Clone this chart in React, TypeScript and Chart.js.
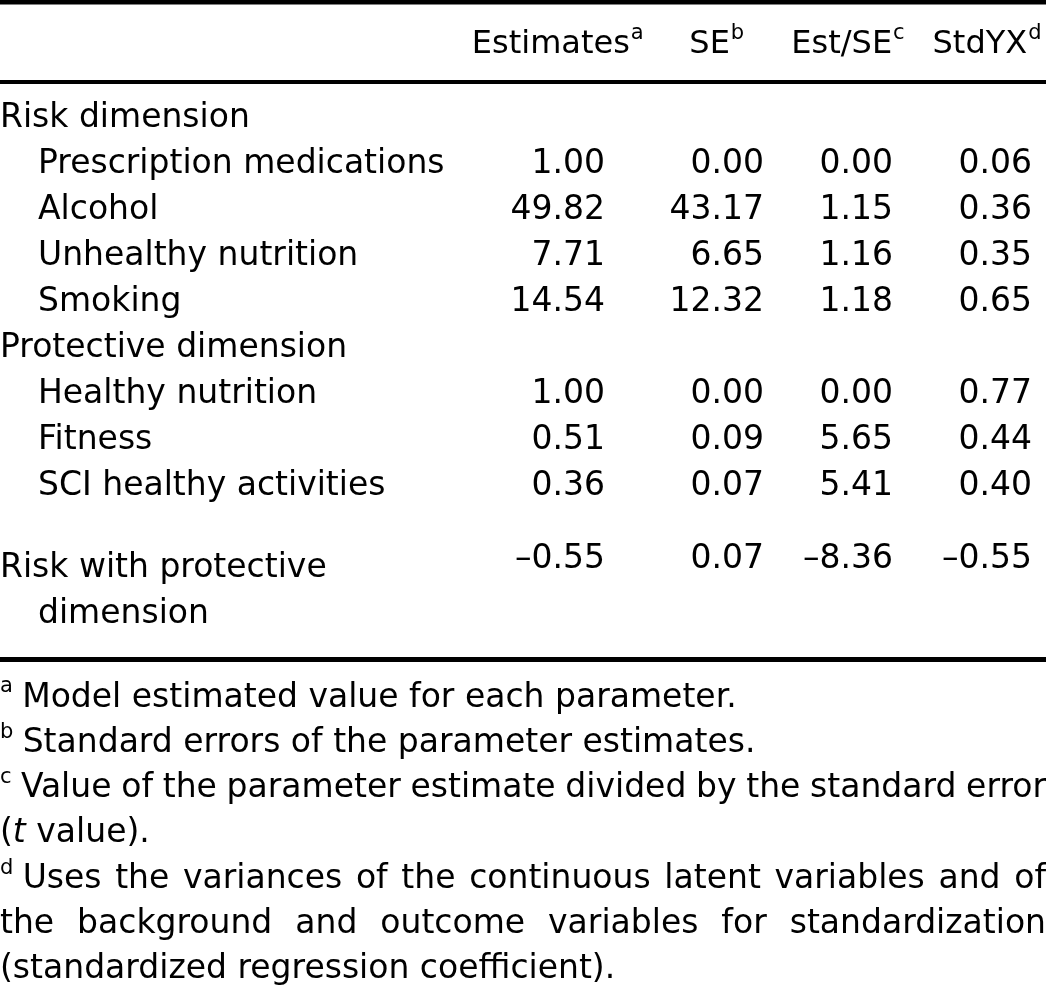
import React, { useEffect, useRef } from "react";
import { Chart, registerables } from "chart.js";

Chart.register(...registerables);

// ---------- DATA ----------
const columnHeaders = ["Estimates", "SE", "Est/SE", "StdYX"];
const headerNotes = ["a", "b", "c", "d"];

const rowLabels = [
  "Risk dimension",
  "Prescription medications",
  "Alcohol",
  "Unhealthy nutrition",
  "Smoking",
  "Protective dimension",
  "Healthy nutrition",
  "Fitness",
  "SCI healthy activities",
];
const rowIsGroup = [true, false, false, false, false, true, false, false, false];

const estimates: (number | null)[] = [null, 1.0, 49.82, 7.71, 14.54, null, 1.0, 0.51, 0.36];
const standardErrors: (number | null)[] = [null, 0.0, 43.17, 6.65, 12.32, null, 0.0, 0.09, 0.07];
const estOverSe: (number | null)[] = [null, 0.0, 1.15, 1.16, 1.18, null, 0.0, 5.65, 5.41];
const stdYX: (number | null)[] = [null, 0.06, 0.36, 0.35, 0.65, null, 0.77, 0.44, 0.4];

const correlationLabel = ["Risk with protective", "dimension"];
const correlationValues = [-0.55, 0.07, -8.36, -0.55];

const footnoteMarks = ["a", "b", "c", "", "d", "", ""];
const footnoteLines = [
  "Model estimated value for each parameter.",
  "Standard errors of the parameter estimates.",
  "Value of the parameter estimate divided by the standard error",
  "(|t| value).",
  "Uses the variances of the continuous latent variables and of",
  "the background and outcome variables for standardization",
  "(standardized regression coefficient).",
];
const footnoteJustify = [false, false, true, false, true, true, false];

// ---------- STYLE / LAYOUT ----------
const W = 1046;
const H = 996;
const LINE = 46; // px per line unit
const FONT = '"DejaVu Sans", "Noto Sans", sans-serif';
const SIZE = 33;
const HEAD_SIZE = 32;
const SUP = 21;
const INDENT = 38;
const colRight = [605, 764, 893, 1032];
const Y = {
  topRule: 2 / LINE,
  header: 45 / LINE,
  headerRule: 82 / LINE,
  firstRow: 118 / LINE,
  corrValues: 559 / LINE,
  corrLabel: 568 / LINE,
  bottomRule: 659.5 / LINE,
  firstNote: 698 / LINE,
  notePitch: 45.3 / LINE,
};

const fmt = (v: number) => (v < 0 ? "\u2013" + Math.abs(v).toFixed(2) : v.toFixed(2));

const tablePlugin = {
  id: "tableDraw",
  afterDraw(chart: any) {
    const ctx: CanvasRenderingContext2D = chart.ctx;
    const xs = chart.scales.x;
    const ys = chart.scales.y;
    const px = (v: number) => xs.getPixelForValue(v);
    const py = (v: number) => ys.getPixelForValue(v);
    const left = chart.chartArea.left;
    const right = chart.chartArea.right;

    ctx.save();
    ctx.fillStyle = "#ffffff";
    ctx.fillRect(0, 0, chart.width, chart.height);
    ctx.fillStyle = "#000000";

    // rules
    const rule = (yv: number, th: number) => {
      const y = py(yv);
      ctx.fillRect(left, y - th / 2, right - left, th);
    };
    rule(Y.topRule, 5);
    rule(Y.headerRule, 4);
    rule(Y.bottomRule, 5);

    const normal = `${SIZE}px ${FONT}`;
    const head = `${HEAD_SIZE}px ${FONT}`;
    const sup = `${SUP}px ${FONT}`;
    ctx.textBaseline = "middle";

    const cols = [estimates, standardErrors, estOverSe, stdYX];

    // header: centred over each column's widest entry
    columnHeaders.forEach((h, i) => {
      ctx.font = normal;
      const vals = [...cols[i].filter((v) => v !== null), correlationValues[i]] as number[];
      const maxW = Math.max(...vals.map((v) => ctx.measureText(fmt(v)).width));
      const center = px(colRight[i]) - maxW / 2;
      ctx.font = head;
      const tw = ctx.measureText(h).width;
      ctx.font = sup;
      const sw = ctx.measureText(headerNotes[i]).width;
      const total = tw + 1 + sw;
      const x0 = center - total / 2;
      const yr = py(Y.header);
      ctx.textAlign = "left";
      ctx.font = head;
      ctx.fillText(h, x0, yr);
      ctx.font = sup;
      ctx.fillText(headerNotes[i], x0 + tw + 1, yr - 11);
    });

    // body rows
    ctx.font = normal;
    rowLabels.forEach((lab, r) => {
      const yr = py(Y.firstRow + r);
      ctx.textAlign = "left";
      ctx.fillText(lab, px(rowIsGroup[r] ? 0 : INDENT), yr);
      ctx.textAlign = "right";
      cols.forEach((c, ci) => {
        const v = c[r];
        if (v !== null && v !== undefined) ctx.fillText(fmt(v), px(colRight[ci]), yr);
      });
    });

    // correlation row
    ctx.textAlign = "left";
    correlationLabel.forEach((l, k) => {
      ctx.fillText(l, px(k === 0 ? 0 : INDENT), py(Y.corrLabel + k * 1.02));
    });
    ctx.textAlign = "right";
    correlationValues.forEach((v, ci) => {
      ctx.fillText(fmt(v), px(colRight[ci]), py(Y.corrValues));
    });

    // footnotes
    ctx.textAlign = "left";
    footnoteLines.forEach((line, k) => {
      const yr = py(Y.firstNote + k * Y.notePitch);
      let x = px(0);
      const mark = footnoteMarks[k];
      if (mark) {
        ctx.font = sup;
        ctx.fillText(mark, x, yr - 11);
        x += ctx.measureText(mark).width + 2;
      }
      ctx.font = normal;
      const parts = line.split(" ");
      const drawWord = (w: string, x0: number, measureOnly: boolean) => {
        let xx = x0;
        const segs = w.split("|");
        segs.forEach((s, si) => {
          ctx.font = si % 2 === 1 ? `italic ${SIZE}px ${FONT}` : normal;
          if (!measureOnly) ctx.fillText(s, xx, yr);
          xx += ctx.measureText(s).width;
        });
        ctx.font = normal;
        return xx - x0;
      };
      const spaceW = ctx.measureText(" ").width;
      const wordsW = parts.map((p) => drawWord(p, 0, true));
      const total = wordsW.reduce((a, b) => a + b, 0);
      let gap = spaceW;
      if (mark) x += spaceW * 0.7;
      if (footnoteJustify[k] && parts.length > 1) {
        gap = (right - x - total) / (parts.length - 1);
      }
      parts.forEach((p, i) => {
        drawWord(p, x, false);
        x += wordsW[i] + gap;
      });
    });

    ctx.restore();
  },
};

export default function App() {
  const ref = useRef<HTMLCanvasElement | null>(null);
  useEffect(() => {
    document.body.style.margin = "0";
    const canvas = ref.current;
    if (!canvas) return;
    const chart = new Chart(canvas, {
      type: "scatter",
      data: { datasets: [{ data: [], showLine: false }] },
      options: {
        animation: false,
        responsive: false,
        devicePixelRatio: 1,
        layout: { padding: 0 },
        plugins: { legend: { display: false }, tooltip: { enabled: false } },
        scales: {
          x: { type: "linear", min: 0, max: W, display: false },
          y: { type: "linear", min: 0, max: H / LINE, reverse: true, display: false },
        },
      },
      plugins: [tablePlugin],
    });
    return () => chart.destroy();
  }, []);
  return (
    <div style={{ width: W, height: H, background: "#fff" }}>
      <canvas ref={ref} width={W} height={H} style={{ display: "block" }} />
    </div>
  );
}
